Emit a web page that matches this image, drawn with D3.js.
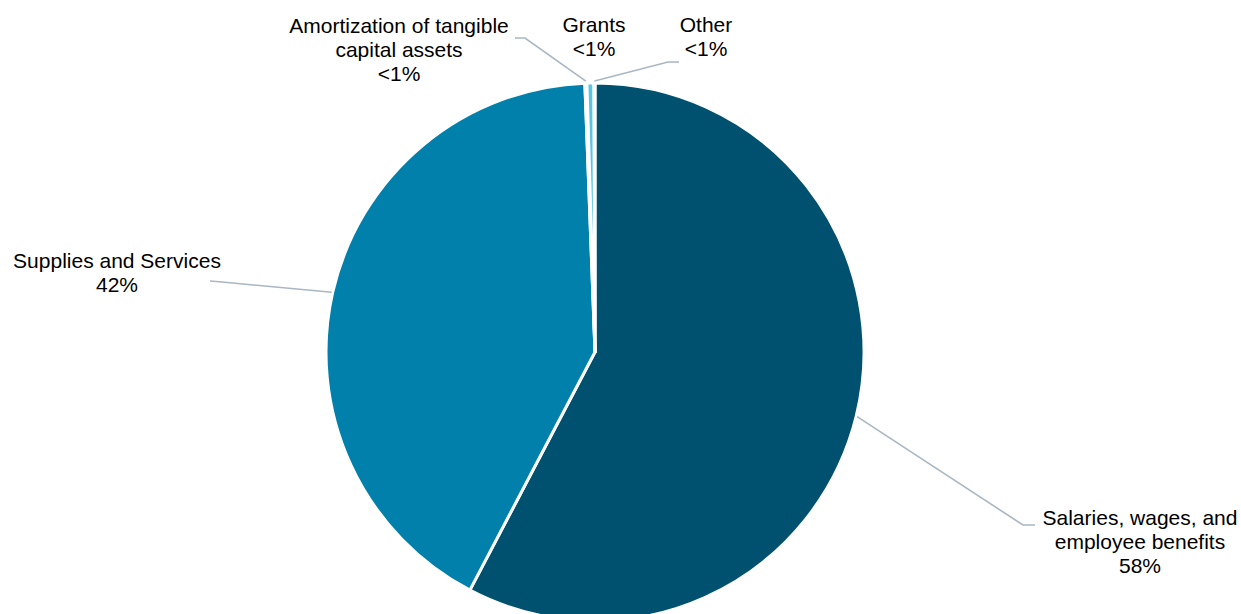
<!DOCTYPE html>
<html><head><meta charset="utf-8">
<script src="https://cdn.jsdelivr.net/npm/d3@7"></script>
<style>body{margin:0;background:#fff}svg{display:block}</style>
</head><body>
<svg id="c" width="1241" height="614"></svg>
<script>
const categories = ["Salaries, wages, and employee benefits","Supplies and Services","Amortization of tangible capital assets","Grants","Other"];
const values = [57.7, 41.7, 0.12, 0.42, 0.06];
const valueLabels = ["58%","42%","<1%","<1%","<1%"];
const colors = ["#00516F","#0080AA","#E6EEF3","#5BC5E6","#EEF3F6"];

// layout: label lines, text center x, first baseline, elbow path
const labelLines = [
  ["Salaries, wages, and","employee benefits","58%"],
  ["Supplies and Services","42%"],
  ["Amortization of tangible","capital assets","<1%"],
  ["Grants","<1%"],
  ["Other","<1%"]
];
const labelPos = [
  {x:1140, y:525, stub:[1035,525], elbow:[1023,525]},
  {x:117, y:268, stub:[210,281], elbow:[222,282]},
  {x:399, y:33, stub:[515,38], elbow:[525,38]},
  {x:594, y:32, stub:null, elbow:null},
  {x:706, y:32, stub:[679,62], elbow:[668,62]}
];

const svg = d3.select("#c");
const cx = 595, cy = 352, r = 269;
const g = svg.append("g").attr("transform",`translate(${cx},${cy})`);
const pie = d3.pie().sort(null).value(d=>d).startAngle(0).endAngle(2*Math.PI);
const arcs = pie(values);
const arc = d3.arc().innerRadius(0).outerRadius(r);
g.selectAll("path").data(arcs).join("path")
  .attr("d",arc).attr("fill",(d,i)=>colors[i])
  .attr("stroke","#fff").attr("stroke-width",3).attr("stroke-linejoin","round");

const edge = (a, rr) => [cx + Math.sin(a)*rr, cy - Math.cos(a)*rr];
arcs.forEach((d,i)=>{
  const p = labelPos[i];
  if (!p.stub) return;
  const mid = (d.startAngle + d.endAngle)/2;
  const e = edge(mid, i>=2 ? r+2 : r+1);
  svg.append("path")
    .attr("d", d3.line()([p.stub, p.elbow, e]))
    .attr("fill","none").attr("stroke","#A9B7C4").attr("stroke-width",1.6);
});

labelLines.forEach((lines,i)=>{
  const p = labelPos[i];
  const t = svg.append("text").attr("text-anchor","middle")
    .attr("font-family","Liberation Sans, Arial, sans-serif").attr("font-size",21).attr("fill","#000");
  lines.forEach((l,j)=>{
    t.append("tspan").attr("x",p.x).attr("y",p.y + j*24).text(l);
  });
});
</script>
</body></html>
